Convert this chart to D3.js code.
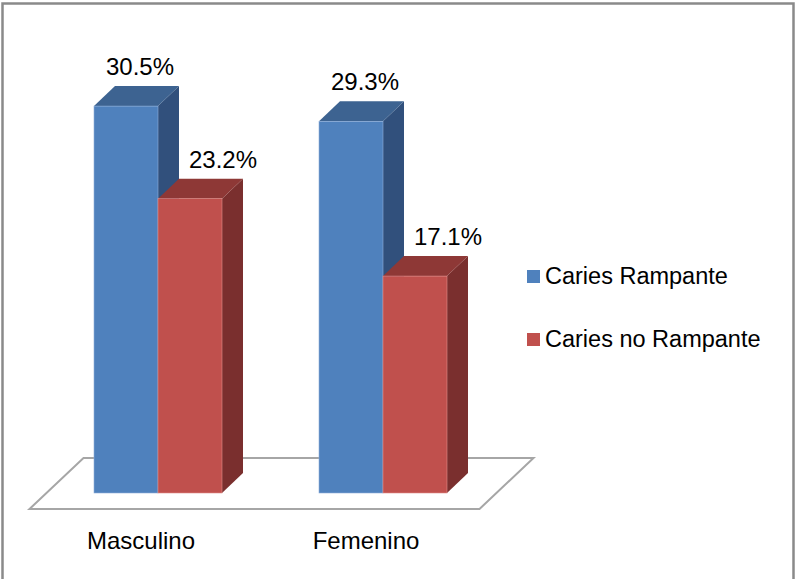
<!DOCTYPE html>
<html>
<head>
<meta charset="utf-8">
<script src="https://cdn.jsdelivr.net/npm/d3@7"></script>
<style>
  body { margin: 0; background: #fff; }
  text { font-family: "Liberation Sans", Arial, sans-serif; fill: #000; }
</style>
</head>
<body>
<script>
// data
var categories = ["Masculino", "Femenino"];
var series = ["Caries Rampante", "Caries no Rampante"];
var rampante = [30.5, 29.3];
var noRampante = [23.2, 17.1];
var yMax = 35;

var width = 797, height = 579;

var colors = {
  "Caries Rampante": { front: "#4f81bd", top: "#3d6391", side: "#31507c", edge: "#8fb0da" },
  "Caries no Rampante": { front: "#c0504d", top: "#8e3836", side: "#7a2f2e", edge: "#e08e8b" }
};

var svg = d3.select("body").append("svg")
  .attr("width", width)
  .attr("height", height);

// chart frame
svg.append("rect")
  .attr("x", 2.5).attr("y", 3.5)
  .attr("width", 791).attr("height", 620)
  .attr("fill", "#fff")
  .attr("stroke", "#8a8a8a")
  .attr("stroke-width", 2.5);

// scales
var x0 = d3.scaleBand()
  .domain(categories)
  .range([45.5, 495.5]);

var x1 = d3.scaleBand()
  .domain(series)
  .range([-64, 64]);

var y = d3.scaleLinear()
  .domain([0, yMax])
  .range([493, 49]);

var depth = { dx: 21, dy: -20 };

// floor
var fl = x0.range()[0] - 16, fr = x0.range()[1] - 16;
var ff = y(0) + 16, fb = y(0) - 35;
svg.append("path")
  .attr("d", "M" + fl + "," + ff + " L" + fr + "," + ff +
             " L" + (fr + 54) + "," + fb + " L" + (fl + 54) + "," + fb + " Z")
  .attr("fill", "#fff")
  .attr("stroke", "#a6a6a6")
  .attr("stroke-width", 2);

var rows = [];
categories.forEach(function(c, i) {
  rows.push({ cat: c, s: series[0], v: rampante[i] });
  rows.push({ cat: c, s: series[1], v: noRampante[i] });
});

// bars
var bars = svg.selectAll("g.bar")
  .data(rows)
  .enter().append("g")
  .attr("class", "bar");

bars.each(function(d) {
  var g = d3.select(this);
  var xl = x0(d.cat) + x0.bandwidth() / 2 + x1(d.s);
  var xr = xl + x1.bandwidth();
  var yt = y(d.v), yb = y(0);
  var c = colors[d.s];

  // side
  g.append("path")
    .attr("d", "M" + xr + "," + yt + " L" + (xr + depth.dx) + "," + (yt + depth.dy) +
               " L" + (xr + depth.dx) + "," + (yb + depth.dy) + " L" + xr + "," + yb + " Z")
    .attr("fill", c.side);
  // top
  g.append("path")
    .attr("d", "M" + xl + "," + yt + " L" + (xl + depth.dx) + "," + (yt + depth.dy) +
               " L" + (xr + depth.dx) + "," + (yt + depth.dy) + " L" + xr + "," + yt + " Z")
    .attr("fill", c.top);
  // front
  g.append("rect")
    .attr("x", xl).attr("y", yt)
    .attr("width", xr - xl).attr("height", yb - yt)
    .attr("fill", c.front)
    .attr("stroke", c.edge)
    .attr("stroke-width", 0.6);
});

// value labels
var labelShift = { "Caries Rampante": 14, "Caries no Rampante": 33 };
svg.selectAll("text.value")
  .data(rows)
  .enter().append("text")
  .attr("class", "value")
  .attr("x", function(d) { return x0(d.cat) + x0.bandwidth() / 2 + x1(d.s) + x1.bandwidth() / 2 + labelShift[d.s]; })
  .attr("y", function(d) { return y(d.v) + depth.dy - 11; })
  .attr("text-anchor", "middle")
  .style("font-size", "24px")
  .text(function(d) { return d.v.toFixed(1) + "%"; });

// category labels
svg.selectAll("text.cat")
  .data(categories)
  .enter().append("text")
  .attr("class", "cat")
  .attr("x", function(d) { return x0(d) + x0.bandwidth() / 2 - 17; })
  .attr("y", 549)
  .attr("text-anchor", "middle")
  .style("font-size", "24px")
  .text(function(d) { return d; });

// legend
var legend = svg.selectAll("g.legend")
  .data(series)
  .enter().append("g")
  .attr("class", "legend")
  .attr("transform", function(d, i) { return "translate(527," + (270 + i * 63) + ")"; });

legend.append("rect")
  .attr("width", 13).attr("height", 13)
  .attr("fill", function(d) { return colors[d].front; });

legend.append("text")
  .attr("x", 18)
  .attr("y", 14)
  .style("font-size", "23.5px")
  .text(function(d) { return d; });
</script>
</body>
</html>
